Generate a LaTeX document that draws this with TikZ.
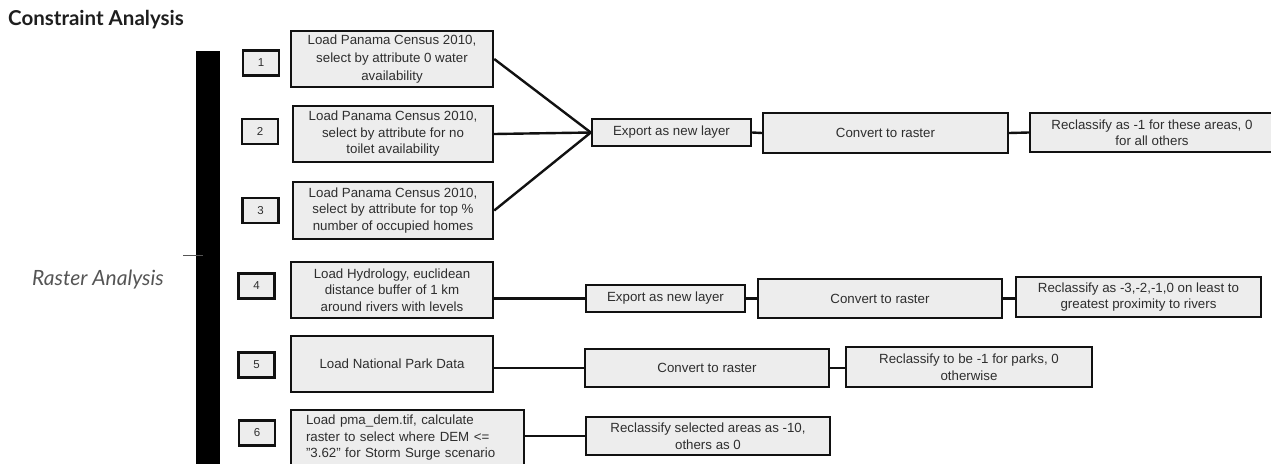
\documentclass[tikz,border=0pt]{standalone}
\usepackage{fontspec}
\setmainfont{Liberation Sans}
\newfontfamily\latofont{Lato}
\definecolor{boxfill}{HTML}{EDEDED}
\definecolor{txt}{HTML}{2E2E2E}
\definecolor{edge}{HTML}{111111}
\definecolor{titlecol}{HTML}{1E1E1E}
\definecolor{sidecol}{HTML}{555555}
\tikzset{
  box/.style={draw=edge, line width=2.4pt, fill=boxfill, inner sep=2pt, align=center,
    text=txt, font=\fontsize{13.3}{16.5}\selectfont},
  numbox/.style={draw=edge, line width=2.4pt, fill=boxfill, minimum width=36pt,
    minimum height=25pt, inner sep=0pt, text=txt, font=\fontsize{11.5}{13}\selectfont},
  link/.style={draw=edge, line width=2.4pt},
}
\begin{document}
\begin{tikzpicture}[x=1pt,y=-1pt]
\useasboundingbox (0,0) rectangle (1271,463);
\clip (0,0) rectangle (1271,463);

% title and side label
\node[anchor=base west, inner sep=0pt, text=titlecol, font=\latofont\bfseries\fontsize{20.5}{23}\selectfont] (title) at (8,25) {Constraint Analysis};
\node[inner sep=0pt, text=sidecol, font=\latofont\itshape\fontsize{21}{24}\selectfont] (side) at (98,280) {Raster Analysis};

% vertical bar and tick
\node[fill=black, minimum width=24pt, minimum height=420pt, inner sep=0pt, anchor=north west] (bar) at (196,51) {};
\coordinate (tickA) at (183,255);
\coordinate (tickB) at (203,255);
\draw[sidecol, line width=1pt] (tickA) -- (tickB);

% number boxes
\node[numbox] (n1) at (261,63) {1};
\node[numbox] (n2) at (260,131.5) {2};
\node[numbox] (n3) at (260.5,210.5) {3};
\node[numbox] (n4) at (256.5,286) {4};
\node[numbox] (n5) at (256.5,365) {5};
\node[numbox] (n6) at (257,433) {6};

% load boxes
\node[box, minimum width=202pt, minimum height=56pt, font=\fontsize{13.3}{18}\selectfont] (a1) at (392,59)
  {Load Panama Census 2010,\\ select by attribute 0 water\\ availability};
\node[box, minimum width=200pt, minimum height=56pt] (a2) at (393,134)
  {Load Panama Census 2010,\\ select by attribute for no\\ toilet availability};
\node[box, minimum width=200pt, minimum height=57pt] (a3) at (393,210.5)
  {Load Panama Census 2010,\\ select by attribute for top \%\\ number of occupied homes};
\node[box, minimum width=202pt, minimum height=56pt] (a4) at (392,290)
  {Load Hydrology, euclidean\\ distance buffer of 1 km\\ around rivers with levels};
\node[box, minimum width=202pt, minimum height=56pt] (a5) at (392,364)
  {Load National Park Data};
\node[box, minimum width=233pt, minimum height=56pt, text width=203pt, inner xsep=15pt, align=left] (a6) at (407.5,438)
  {Load pma\_dem.tif, calculate\\ raster to select where DEM <=\\ \symbol{34}3.62\symbol{34} for Storm Surge scenario};

% row 1
\node[box, minimum width=159pt, minimum height=27pt] (e1) at (671.5,132.5) {Export as new layer};
\node[box, minimum width=245pt, minimum height=40pt] (c1) at (885.5,133) {Convert to raster};
\node[box, minimum width=244pt, minimum height=39pt] (r1) at (1152,132.5)
  {Reclassify as -1 for these areas, 0\\ for all others};

% row 4
\node[box, minimum width=159pt, minimum height=27pt] (e2) at (665.5,298.5) {Export as new layer};
\node[box, minimum width=244pt, minimum height=39pt] (c2) at (880,298.5) {Convert to raster};
\node[box, minimum width=245pt, minimum height=40pt] (r2) at (1138.5,297)
  {Reclassify as -3,-2,-1,0 on least to\\ greatest proximity to rivers};

% row 5
\node[box, minimum width=244pt, minimum height=38pt] (c3) at (707,368) {Convert to raster};
\node[box, minimum width=246pt, minimum height=40pt] (r3) at (969,367)
  {Reclassify to be -1 for parks, 0\\ otherwise};

% row 6
\node[box, minimum width=244pt, minimum height=38pt] (r4) at (708,436)
  {Reclassify selected areas as -10,\\ others as 0};

% connectors
\draw[link] (a1.east) -- (e1.west);
\draw[link] (a2.east) -- (e1.west);
\draw[link] (a3.east) -- (e1.west);
\draw[link] (e1.east) -- (c1.west);
\draw[link] (c1.east) -- (r1.west);

\draw[link] (a4.east |- e2.west) -- (e2.west);
\draw[link] (e2.east) -- (c2.west);
\draw[link] (c2.east) -- (c2.east -| r2.west);

\draw[link] (a5.east |- c3.west) -- (c3.west);
\draw[link] (c3.east) -- (c3.east -| r3.west);

\draw[link] (a6.east |- r4.west) -- (r4.west);
\end{tikzpicture}
\end{document}
